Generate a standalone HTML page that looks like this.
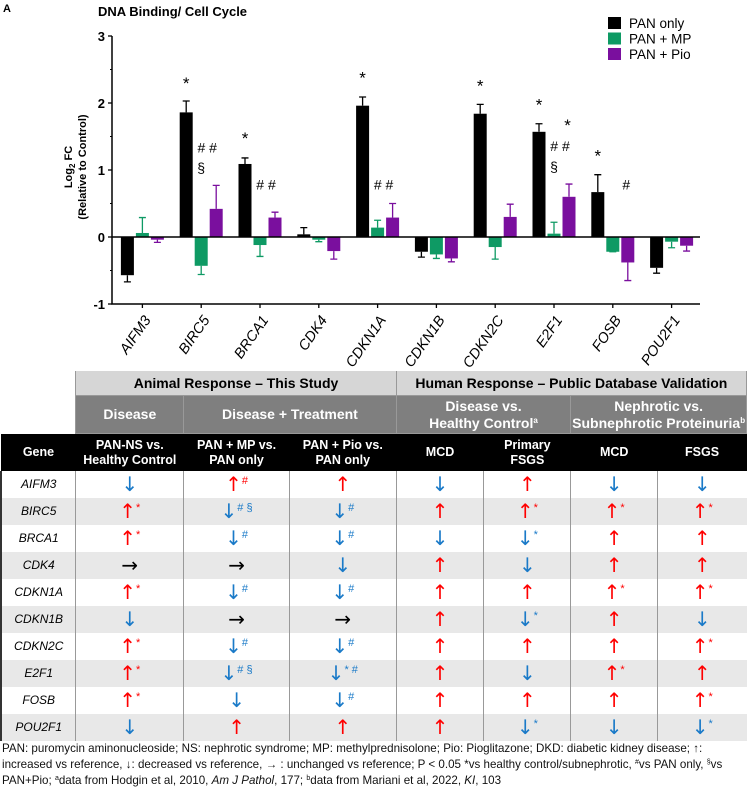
<!DOCTYPE html>
<html><head><meta charset="utf-8">
<style>
body{margin:0;width:747px;height:786px;background:#fff;font-family:"Liberation Sans",sans-serif;position:relative;overflow:hidden}
#chart{position:absolute;left:0;top:0}
#tbl{position:absolute;left:0;top:371px;border-collapse:collapse;table-layout:fixed;font-family:"Liberation Sans Narrow","Liberation Sans",sans-serif}
#tbl td{padding:0;text-align:center;vertical-align:middle;line-height:1.15}
.h1{background:#d6d6d6;font-weight:bold;font-size:14px;height:24px;border-left:1px solid #999;border-right:1px solid #999}
.h2{background:#7f7f7f;color:#fff;font-weight:bold;font-size:14px;height:37px;border:1px solid #999}
.h3{background:#000;color:#fff;font-weight:bold;font-size:12.5px;height:37px}
.r td{height:27px;border-left:1px solid #999;font-size:20px;font-family:"DejaVu Sans",sans-serif}
.r td.g{font-family:"Liberation Sans",sans-serif;font-style:italic;font-size:12px;text-align:left;padding-left:5px;border-left:2px solid #333}
.r:nth-child(even) td{background:#e8e8e8}
.u{color:#f00}.d{color:#1a7ac8}.n{color:#000}
sup{font-size:11px;font-family:"Liberation Sans",sans-serif;vertical-align:7px}
#foot{position:absolute;left:2px;top:742px;font-size:11.6px;line-height:14px;color:#111;width:745px}
#foot sup{font-size:7px;vertical-align:4px}
</style></head><body>
<svg id="chart" width="747" height="370" xmlns="http://www.w3.org/2000/svg" font-family="Liberation Sans, sans-serif"></svg>

<table id="tbl">
<colgroup><col style="width:75px"><col style="width:108px"><col style="width:106px"><col style="width:107px"><col style="width:88px"><col style="width:87px"><col style="width:87px"><col style="width:89px"></colgroup>
<tr><td></td><td class="h1" colspan="3">Animal Response – This Study</td><td class="h1" colspan="4">Human Response – Public Database Validation</td></tr>
<tr><td></td><td class="h2">Disease</td><td class="h2" colspan="2">Disease + Treatment</td><td class="h2" colspan="2">Disease vs.<br>Healthy Control<sup style="font-size:8px;vertical-align:5px">a</sup></td><td class="h2" colspan="2">Nephrotic vs.<br>Subnephrotic Proteinuria<sup style="font-size:8px;vertical-align:5px">b</sup></td></tr>
<tr><td class="h3">Gene</td><td class="h3">PAN-NS vs.<br>Healthy Control</td><td class="h3">PAN + MP vs.<br>PAN only</td><td class="h3">PAN + Pio vs.<br>PAN only</td><td class="h3">MCD</td><td class="h3">Primary<br>FSGS</td><td class="h3">MCD</td><td class="h3">FSGS</td></tr>
<tbody id="tb"></tbody>
</table>

<div id="foot">PAN: puromycin aminonucleoside; NS: nephrotic syndrome; MP: methylprednisolone; Pio: Pioglitazone; DKD: diabetic kidney disease; <b>↑</b>: increased vs reference, <b>↓</b>: decreased vs reference, <b>→</b> : unchanged vs reference; P &lt; 0.05 *vs healthy control/subnephrotic, <sup>#</sup>vs PAN only, <sup>§</sup>vs PAN+Pio; <sup>a</sup>data from Hodgin et al, 2010, <i>Am J Pathol</i>, 177; <sup>b</sup>data from Mariani et al, 2022, <i>KI</i>, 103</div>

<script>
const genes=["AIFM3","BIRC5","BRCA1","CDK4","CDKN1A","CDKN1B","CDKN2C","E2F1","FOSB","POU2F1"];
const panOnly=[-0.57,1.86,1.09,0.04,1.96,-0.22,1.84,1.57,0.67,-0.46];
const panOnlyErr=[0.1,0.17,0.09,0.1,0.13,0.08,0.14,0.12,0.26,0.08];
const panMP=[0.06,-0.43,-0.12,-0.04,0.14,-0.26,-0.15,0.05,-0.22,-0.07];
const panMPErr=[0.23,0.13,0.17,0.03,0.11,0.06,0.18,0.17,0,0.09];
const panPio=[-0.04,0.42,0.29,-0.21,0.29,-0.32,0.3,0.6,-0.38,-0.13];
const panPioErr=[0.04,0.35,0.08,0.12,0.21,0.05,0.19,0.19,0.27,0.08];
const yTicks=[-1,0,1,2,3];
const seriesNames=["PAN only","PAN + MP","PAN + Pio"];
const seriesColors=["#000","#0e9a64","#7a0f9e"];
const annots=[[1,0,2.3,"*"],[1,1.4,1.35,"# #"],[1,1,1.05,"§"],[2,0,1.48,"*"],[2,1.4,0.8,"# #"],[4,0,2.38,"*"],[4,1.4,0.8,"# #"],[6,0,2.26,"*"],[7,0,1.98,"*"],[7,1.4,1.37,"# #"],[7,1,1.07,"§"],[7,1.9,1.67,"*"],[8,0,1.22,"*"],[8,1.9,0.8,"#"]];

const svg=document.getElementById('chart');const NS="http://www.w3.org/2000/svg";
function el(t,a,p){const e=document.createElementNS(NS,t);for(const k in a)e.setAttribute(k,a[k]);(p||svg).appendChild(e);return e;}
const X0=112,X1=700,yS=v=>237-v*67;
const step=(X1-X0)/genes.length;
const xC=i=>X0+step*(i+0.5)+1;
const series=[[panOnly,panOnlyErr],[panMP,panMPErr],[panPio,panPioErr]];
const bw=13;
series.forEach((s,si)=>{
  s[0].forEach((v,i)=>{
    const cx=xC(i)+(si-1)*15;
    const r=el('rect',{x:cx-bw/2,y:Math.min(yS(v),yS(0)),width:bw,height:Math.abs(yS(v)-yS(0)),fill:seriesColors[si]});
    
    
    const e=s[1][i];const sg=v>=0?1:-1;
    const ln=el('path',{d:`M${cx} ${yS(v)} V${yS(v+sg*e)} M${cx-3.5} ${yS(v+sg*e)} H${cx+3.5}`,stroke:seriesColors[si],'stroke-width':1.3,fill:'none'});
    
    
  });
});
const ax=el('path',{d:`M${X0} ${yS(3)} V${yS(-1)} H${X1}`,stroke:'#000','stroke-width':1.5,fill:'none'});


const zl=el('line',{x1:X0,x2:X1,y1:yS(0),y2:yS(0),stroke:'#000','stroke-width':1.5});


yTicks.forEach(t=>{
  el('line',{x1:X0-4,x2:X0,y1:yS(t),y2:yS(t),stroke:'#000','stroke-width':1.3});
  if(t<3)el('line',{x1:X0-2,x2:X0,y1:yS(t+0.5),y2:yS(t+0.5),stroke:'#000','stroke-width':1});
  const tx=el('text',{x:X0-7,y:yS(t)+5,'text-anchor':'end','font-size':13,'font-weight':'bold'});tx.textContent=t;
  
  
});
genes.forEach((g,i)=>{
  el('line',{x1:xC(i),x2:xC(i),y1:yS(-1),y2:yS(-1)+4,stroke:'#000','stroke-width':1.3});
  const t=el('text',{transform:`translate(${xC(i)+9},${yS(-1)+16}) rotate(-55)`,'text-anchor':'end','font-size':14.5,'font-style':'italic'});t.textContent=g;
  
  
});
annots.forEach(a=>{
  const t=el('text',{x:xC(a[0])+(a[1]-1)*15,y:yS(a[2])+6,'text-anchor':'middle','font-size':a[3]=="*"?17:14});t.textContent=a[3];
  
  
});
const yl=el('text',{transform:'translate(72,167) rotate(-90)','text-anchor':'middle','font-size':11,'font-weight':'bold'});
yl.innerHTML='Log<tspan font-size="8" dy="3">2</tspan><tspan dy="-3"> FC</tspan>';


const yl2=el('text',{transform:'translate(86,167) rotate(-90)','text-anchor':'middle','font-size':11,'font-weight':'bold'});yl2.textContent='(Relative to Control)';


const ti=el('text',{x:98,y:16,'font-size':13,'font-weight':'bold'});ti.textContent='DNA Binding/ Cell  Cycle';


const la=el('text',{x:3,y:12,'font-size':11,'font-weight':'bold'});la.textContent='A';


const lb=el('text',{x:3,y:382,'font-size':12,'font-weight':'bold'});lb.textContent='B';


seriesNames.forEach((n,i)=>{
  const g=el('g',{});
  
  
  el('rect',{x:608,y:17+i*15.5,width:13,height:12,fill:seriesColors[i]},g);
  const t=el('text',{x:629,y:28+i*15.5,'font-size':13.5},g);t.textContent=n;
});

const U='u',D='d',N='n';
const rows=[
["AIFM3",[[D,""],[U,"#"],[U,""],[D,""],[U,""],[D,""],[D,""]]],
["BIRC5",[[U,"*"],[D,"# §"],[D,"#"],[U,""],[U,"*"],[U,"*"],[U,"*"]]],
["BRCA1",[[U,"*"],[D,"#"],[D,"#"],[D,""],[D,"*"],[U,""],[U,""]]],
["CDK4",[[N,""],[N,""],[D,""],[U,""],[D,""],[U,""],[U,""]]],
["CDKN1A",[[U,"*"],[D,"#"],[D,"#"],[U,""],[U,""],[U,"*"],[U,"*"]]],
["CDKN1B",[[D,""],[N,""],[N,""],[U,""],[D,"*"],[U,""],[D,""]]],
["CDKN2C",[[U,"*"],[D,"#"],[D,"#"],[U,""],[U,""],[U,""],[U,"*"]]],
["E2F1",[[U,"*"],[D,"# §"],[D,"* #"],[U,""],[D,""],[U,"*"],[U,""]]],
["FOSB",[[U,"*"],[D,""],[D,"#"],[U,""],[U,""],[U,""],[U,"*"]]],
["POU2F1",[[D,""],[U,""],[U,""],[U,""],[D,"*"],[D,""],[D,"*"]]]];
const glyph={u:"↑",d:"↓",n:"→"};
const tb=document.getElementById('tb');
rows.forEach(r=>{
  const tr=document.createElement('tr');tr.className='r';
  
  
  let h=`<td class="g">${r[0]}</td>`;
  r[1].forEach(c=>{h+=`<td class="${c[0]}">${glyph[c[0]]}${c[1]?'<sup>'+c[1]+'</sup>':''}</td>`;});
  tr.innerHTML=h;tb.appendChild(tr);
});
</script>
</body></html>
